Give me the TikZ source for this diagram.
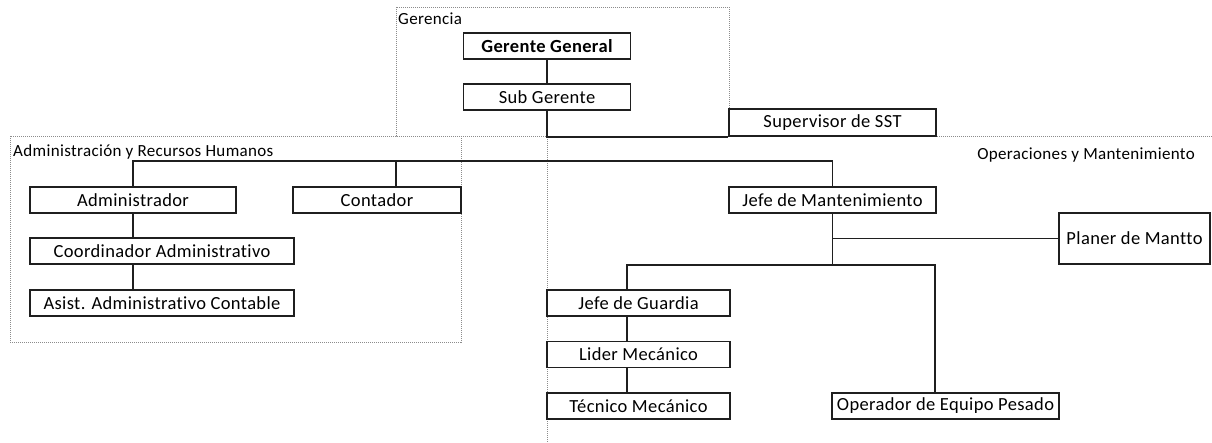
\documentclass[tikz,border=0pt]{standalone}
\usepackage{fontspec}
\setmainfont{Carlito}[LetterSpace=2, Ligatures=CommonOff]
\usetikzlibrary{positioning, calc}
\definecolor{lineCol}{HTML}{1f1f1f}
\definecolor{frameCol}{HTML}{8c8c8c}

\begin{document}
\begin{tikzpicture}[
    x=1pt, y=1pt,
    % Node styles
    orgbox/.style={
        rectangle,
        draw=lineCol,
        line width=1.6pt,
        fill=white,
        font=\fontsize{18.5}{20}\selectfont,
        minimum height=26pt,
        minimum width=#1,
        inner sep=0pt,
        align=center
    },
    link/.style={
        line width=1.6pt,
        draw=lineCol
    },
    frame/.style={
        line width=0.7pt,
        draw=frameCol,
        dash pattern=on 1pt off 1pt
    },
    grouplabel/.style={
        font=\fontsize{17}{18}\selectfont,
        inner sep=0pt
    }
]
    \useasboundingbox (0,0) rectangle (1212,442);

    % ==== GROUP FRAMES ====
    \draw[frame] (396,435) rectangle (729,306);
    \draw[frame] (10,306) rectangle (461,100);
    \draw[frame] (1212,306) -- (547,306) -- (547,0);

    \node[grouplabel, anchor=west] (gerLbl) at (398,423) {Gerencia};
    \node[grouplabel, anchor=west] (admLbl) at (13,290) {Administración y Recursos Humanos};
    \node[grouplabel, anchor=east] (opsLbl) at (1195,287) {Operaciones y Mantenimiento};

    % ==== GERENCIA ====
    \node[orgbox=167pt, font=\fontsize{18.5}{20}\selectfont\bfseries] (gg) at (547,396) {Gerente General};
    \node[orgbox=167pt] (sg) at (547,345) {Sub Gerente};
    \node[orgbox=207pt, minimum height=27pt] (sst) at (832.5,319.5) {Supervisor de SST};

    \draw[link] (gg) -- (sg);
    \draw[link] (sg.south) |- (sst.south west);

    % ==== ADMINISTRACION ====
    \node[orgbox=206pt] (adm) at (133,242) {Administrador};
    \node[orgbox=168pt] (cont) at (377,242) {Contador};
    \node[orgbox=264pt] (coord) at (162,191) {Coordinador Administrativo};
    \node[orgbox=264pt] (asist) at (162,139) {Asist. Administrativo Contable};

    % ==== OPERACIONES ====
    \node[orgbox=207pt] (jm) at (832.5,242) {Jefe de Mantenimiento};
    \node[orgbox=151pt, minimum height=51pt] (planer) at (1134.5,203.5) {Planer de Mantto};
    \node[orgbox=183pt] (jg) at (638.5,139) {Jefe de Guardia};
    \node[orgbox=183pt] (lider) at (638.5,87.5) {Lider Mecánico};
    \node[orgbox=183pt] (tec) at (638.5,36) {Técnico Mecánico};
    \node[orgbox=227pt] (oper) at (945.5,36) {Operador de Equipo Pesado};

    % Main bus to the three branches
    \draw[link] (adm.north) |- ([yshift=25pt]jm.north) -- (jm.north);
    \draw[link] ([xshift=19pt]cont.north) -- ++(0,25);

    % Admin chain
    \draw[link] (adm.south) -- (adm.south |- coord.north);
    \draw[link] (adm.south |- coord.south) -- (adm.south |- asist.north);

    % Maintenance branches
    \draw[link] (jm.south) -- ++(0,-51) coordinate (jmBus);
    \draw[link] (jm.south |- planer.west) -- (planer.west);
    \draw[link] ([xshift=-11.5pt]jg.north) |- (jmBus) -| ([xshift=-10.5pt]oper.north);

    % Guard chain
    \draw[link] ([xshift=-11.5pt]jg.south) -- ([xshift=-11.5pt]lider.north);
    \draw[link] ([xshift=-11.5pt]lider.south) -- ([xshift=-11.5pt]tec.north);

\end{tikzpicture}
\end{document}
